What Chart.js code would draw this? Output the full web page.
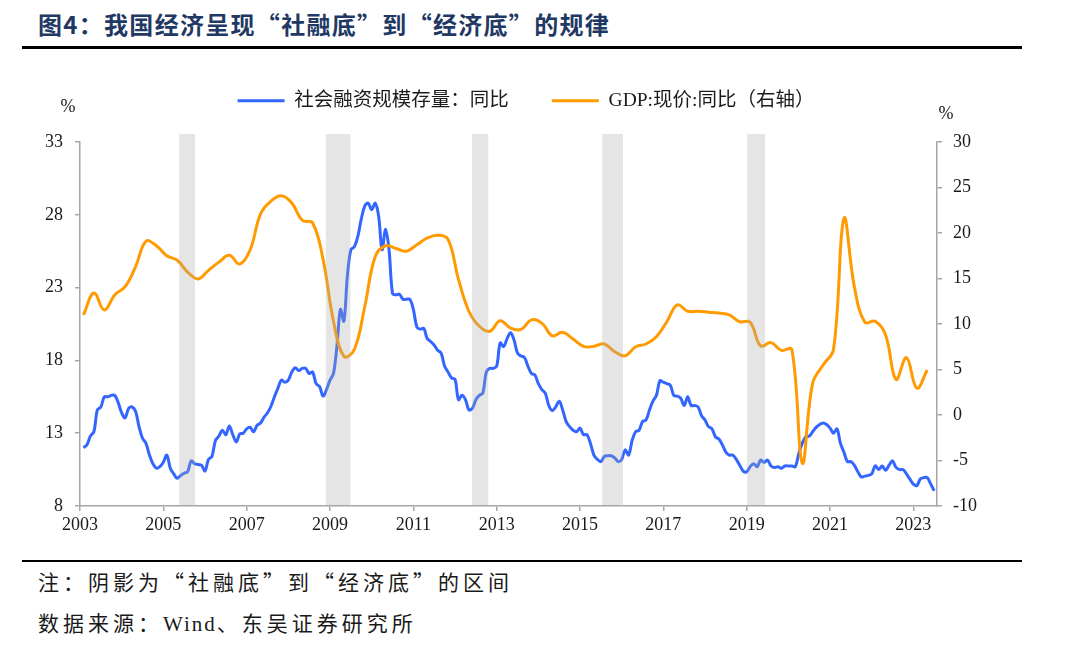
<!DOCTYPE html>
<html lang="zh-CN">
<head>
<meta charset="UTF-8">
<title>图4：我国经济呈现“社融底”到“经济底”的规律</title>
<script src="https://cdn.jsdelivr.net/npm/chart.js@4"></script>
<style>
    body {
        margin: 0;
        width: 1080px;
        height: 661px;
        background: #ffffff;
        position: relative;
        overflow: hidden;
        font-family: "Noto Sans CJK SC", sans-serif;
    }

    .title {
        position: absolute;
        left: 38px;
        top: 6px;
        font-size: 24px;
        font-weight: bold;
        color: #1f3864;
        letter-spacing: 1.3px;
        white-space: nowrap;
    }

    .rule {
        position: absolute;
        left: 22px;
        width: 1000px;
        background: #000;
    }

    #chartBox {
        position: absolute;
        left: 0;
        top: 60px;
        width: 1080px;
        height: 500px;
    }

    .note {
        position: absolute;
        left: 38px;
        font-size: 21px;
        color: #1a1a1a;
        letter-spacing: 4px;
        white-space: nowrap;
    }

    .latin {
        font-family: "Liberation Serif", serif;
        letter-spacing: 2px;
    }
</style>
</head>
<body>
    <div class="title">图4：我国经济呈现“社融底”到“经济底”的规律</div>
    <div class="rule" style="top:46px;height:3px;"></div>

    <div id="chartBox"><canvas id="chart"></canvas></div>

    <div class="rule" style="top:560px;height:2px;"></div>
    <div class="note" style="top:566px;">注：阴影为“社融底”到“经济底”的区间</div>
    <div class="note" style="top:607px;">数据来源：<span class="latin">Wind</span>、东吴证券研究所</div>

<script>
    // Social financing stock, YoY %, monthly from Feb 2003 (month index 1 = Feb 2003)
    const tsfStart = 1;
    const tsfYoY = [
        12.0, 12.2, 12.8, 13.1, 14.6, 14.8, 15.5, 15.5, 15.6, 15.6, 15.1, 14.4,
        14.05, 14.7, 14.8, 14.5, 13.45, 12.65, 12.3, 11.5, 10.9, 10.6, 10.7, 11.0,
        11.5, 10.6, 10.2, 9.9, 10.1, 10.25, 10.35, 11.1, 10.9, 10.85, 10.8, 10.4,
        11.2, 11.4, 12.5, 12.8, 13.2, 12.9, 13.5, 12.9, 12.4, 12.95, 13.0, 13.3,
        13.4, 13.1, 13.55, 13.7, 14.1, 14.4, 14.85, 15.5, 16.1, 16.65, 16.5, 16.65,
        17.2, 17.5, 17.3, 17.45, 17.45, 17.1, 17.2, 16.4, 16.2, 15.55, 16.0, 16.65,
        17.1, 19.0, 21.5, 20.7, 23.8, 25.6, 25.8, 26.5, 27.7, 28.6, 28.8, 28.35,
        28.8, 27.9, 25.6, 27.0, 25.6, 22.6, 22.5, 22.55, 22.2, 22.2, 22.2, 21.5,
        20.3, 20.15, 20.2, 19.5, 19.3, 19.05, 18.7, 18.5, 17.6, 17.2, 16.8, 16.7,
        15.3, 15.6, 15.3, 14.6, 14.7, 15.3, 15.6, 15.75, 17.2, 17.45, 17.45, 17.6,
        19.2, 18.95, 19.5, 19.9, 19.4, 18.5, 18.3, 18.2, 17.6, 17.1, 17.0, 16.4,
        16.0, 15.75, 14.9, 14.55, 14.8, 15.2, 14.6, 13.8, 13.45, 13.2, 13.1, 13.35,
        12.9, 12.9, 12.3, 11.5, 11.2, 11.05, 11.4, 11.45, 11.45, 11.3, 11.05, 11.2,
        11.85, 11.5, 12.5, 13.1, 13.2, 13.8, 13.9, 14.6, 15.2, 15.6, 16.6, 16.5,
        16.4, 16.3, 15.6, 15.55, 15.4, 14.9, 15.5, 14.9, 14.9, 14.8, 14.2, 13.9,
        13.45, 13.3, 12.75, 12.6, 12.2, 11.7, 11.5, 11.5, 11.2, 10.8, 10.4, 10.35,
        10.7, 10.9, 10.7, 11.15, 11.0, 11.15, 10.75, 10.65, 10.7, 10.6, 10.75, 10.75,
        10.75, 10.7, 11.6, 12.3, 12.75, 12.8, 13.1, 13.4, 13.6, 13.7, 13.6, 13.35,
        13.0, 13.3, 12.3, 11.7, 11.05, 11.05, 10.8, 10.35, 10.0, 10.05, 10.1, 10.2,
        10.75, 10.5, 10.75, 10.45, 10.8, 11.1, 10.65, 10.5, 10.5, 10.2, 9.85, 9.5,
        9.4, 9.85, 9.95, 9.95, 9.5, 9.05
    ];

    // Nominal GDP YoY %, quarterly (right axis)
    const gdpStart = 1;
    const gdpStep = 3;
    const gdpYoY = [
        11.0, 13.4, 11.55, 13.2, 14.1, 16.3, 19.1, 18.6, 17.5, 17.0, 15.7, 14.95,
        15.9, 16.8, 17.55, 16.6, 18.15, 22.1, 23.5, 24.1, 23.3, 21.4, 21.1, 17.1,
        10.3, 6.45, 7.2, 11.9, 17.4, 18.6, 18.3, 18.0, 18.7, 19.45, 19.75, 19.3,
        14.9, 11.4, 9.75, 9.2, 10.35, 9.55, 9.4, 10.45, 10.1, 8.7, 9.1, 8.35,
        7.55, 7.55, 7.8, 6.95, 6.5, 7.5, 7.8, 8.6, 10.25, 12.1, 11.4, 11.4,
        11.3, 11.2, 11.0, 10.25, 10.2, 7.6, 7.95, 7.1, 7.2, -5.3, 3.5, 5.5,
        7.2, 21.6, 14.1, 10.2, 10.3, 8.8, 3.9, 6.3, 2.95, 4.95
    ];

    // shaded "社融底" -> "经济底" windows, in decimal years
    const shadeFrom = [2005.38, 2008.90, 2012.41, 2015.53, 2019.01];
    const shadeTo   = [2005.76, 2009.49, 2012.80, 2016.03, 2019.44];

    const xTicks = [2003, 2005, 2007, 2009, 2011, 2013, 2015, 2017, 2019, 2021, 2023];
    const leftTicks = [8, 13, 18, 23, 28, 33];
    const rightTicks = [-10, -5, 0, 5, 10, 15, 20, 25, 30];

    function toPoints(start, step, vals) {
        return vals.map((v, i) => ({ x: 2003 + (start + i * step) / 12, y: v }));
    }

    const numFont = { family: 'Liberation Serif', size: 18 };
    const axisGray = '#a6a6a6';

    // shading drawn over the lines, semi transparent
    const shadePlugin = {
        id: 'shade',
        afterDatasetsDraw(chart) {
            const ctx = chart.ctx;
            const x = chart.scales.x;
            const area = chart.chartArea;
            ctx.save();
            ctx.fillStyle = 'rgba(170, 170, 170, 0.3)';
            for (let i = 0; i < shadeFrom.length; i++) {
                const x0 = x.getPixelForValue(shadeFrom[i]);
                const x1 = x.getPixelForValue(shadeTo[i]);
                ctx.fillRect(x0, area.top - 8, x1 - x0, area.bottom - area.top + 8);
            }
            ctx.restore();
        }
    };

    // "%" unit labels above both axes
    const unitPlugin = {
        id: 'units',
        afterDraw(chart) {
            const ctx = chart.ctx;
            const area = chart.chartArea;
            ctx.save();
            ctx.font = '18px "Liberation Serif"';
            ctx.fillStyle = '#1a1a1a';
            ctx.textAlign = 'center';
            ctx.textBaseline = 'middle';
            ctx.fillText('%', area.left - 12, area.top - 35);
            ctx.fillText('%', area.right + 9, area.top - 28);
            ctx.restore();
        }
    };

    // keep the legend box at a fixed height so the plot area lines up
    const legendHeight = {
        id: 'legendHeight',
        beforeInit(chart) {
            const fit = chart.legend.fit;
            chart.legend.fit = function () {
                fit.call(this);
                this.height = 94;
            };
        }
    };

    new Chart(document.getElementById('chart'), {
        type: 'line',
        data: {
            datasets: [{
                label: '社会融资规模存量：同比',
                data: toPoints(tsfStart, 1, tsfYoY),
                yAxisID: 'yL',
                borderColor: '#3366FF',
                backgroundColor: '#3366FF',
                borderWidth: 3,
                pointRadius: 0,
                tension: 0.35,
                order: 2
            }, {
                label: 'GDP:现价:同比（右轴）',
                data: toPoints(gdpStart, gdpStep, gdpYoY),
                yAxisID: 'yR',
                borderColor: '#FF9A00',
                backgroundColor: '#FF9A00',
                borderWidth: 3,
                pointRadius: 0,
                tension: 0.4,
                order: 1
            }]
        },
        options: {
            responsive: true,
            maintainAspectRatio: false,
            animation: false,
            layout: { padding: { left: 0, right: 28, top: -12, bottom: 0 } },
            plugins: {
                tooltip: { enabled: false },
                legend: {
                    position: 'top',
                    labels: {
                        boxWidth: 47,
                        boxHeight: 3,
                        padding: 43,
                        color: '#1a1a1a',
                        font: { family: '"Liberation Serif", "Noto Sans CJK SC"', size: 19.5 },
                        sort: (a, b) => a.datasetIndex - b.datasetIndex,
                        generateLabels(chart) {
                            return Chart.defaults.plugins.legend.labels.generateLabels(chart)
                                .map(l => Object.assign(l, { lineWidth: 0 }));
                        }
                    }
                }
            },
            scales: {
                x: {
                    type: 'linear',
                    min: 2003,
                    max: 2023.567,
                    afterBuildTicks: s => { s.ticks = xTicks.map(v => ({ value: v })); },
                    afterFit: s => { s.height = 54; },
                    ticks: {
                        font: numFont,
                        color: '#1a1a1a',
                        padding: 3,
                        maxRotation: 0,
                        callback: v => String(v)
                    },
                    grid: { drawOnChartArea: false, color: axisGray, lineWidth: 1.5, tickLength: 5 },
                    border: { color: axisGray, width: 1.5 }
                },
                yL: {
                    position: 'left',
                    min: 8,
                    max: 33,
                    afterBuildTicks: s => { s.ticks = leftTicks.map(v => ({ value: v })); },
                    afterFit: s => { s.width = 80; },
                    ticks: { font: numFont, color: '#1a1a1a', padding: 12 },
                    grid: { drawOnChartArea: false, color: axisGray, lineWidth: 1.5, tickLength: 5 },
                    border: { color: axisGray, width: 1.5 }
                },
                yR: {
                    position: 'right',
                    min: -10,
                    max: 30,
                    afterBuildTicks: s => { s.ticks = rightTicks.map(v => ({ value: v })); },
                    afterFit: s => { s.width = 115; },
                    ticks: { font: numFont, color: '#1a1a1a', padding: 11 },
                    grid: { drawOnChartArea: false, color: axisGray, lineWidth: 1.5, tickLength: 5 },
                    border: { color: axisGray, width: 1.5 }
                }
            }
        },
        plugins: [shadePlugin, unitPlugin, legendHeight]
    });
</script>
</body>
</html>
